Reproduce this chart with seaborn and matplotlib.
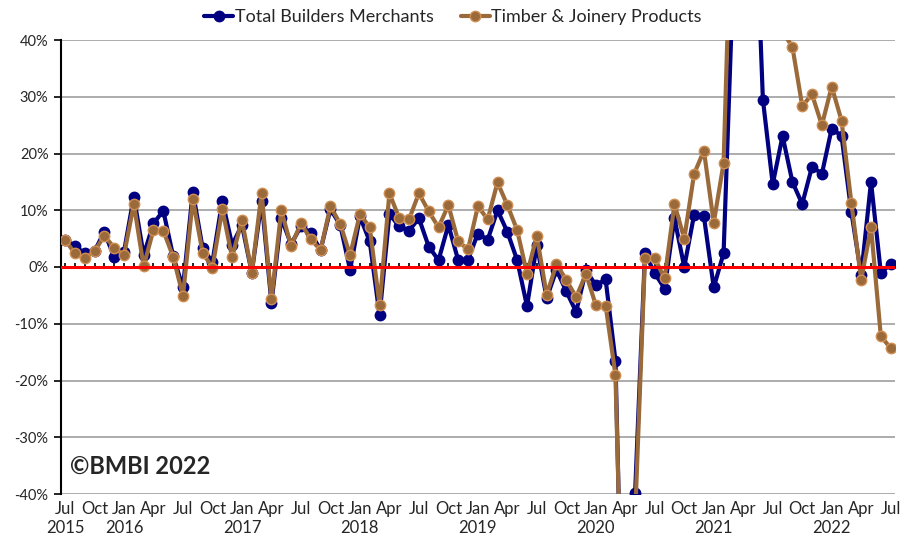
import numpy as np
import pandas as pd
import matplotlib
matplotlib.use("Agg")
import matplotlib.pyplot as plt
import seaborn as sns

# Monthly year-on-year change (%), Jul 2015 .. Jul 2022
total_builders = [
    4.7, 3.7, 2.4, 2.8, 6.2, 1.7, 2.7, 12.4, 2.1, 7.7, 9.9, 1.9,
    -3.6, 13.3, 3.3, 0.9, 11.7, 3.9, 7.4, -1.0, 11.7, -6.3, 8.6, 4.0,
    7.2, 6.0, 3.0, 10.2, 7.4, -0.5, 8.9, 4.5, -8.5, 9.3, 7.2, 6.4,
    8.6, 3.6, 1.2, 7.4, 1.2, 1.3, 5.9, 4.8, 10.0, 6.2, 1.2, -6.9,
    3.9, -5.5, -0.5, -4.3, -7.9, -0.6, -3.2, -2.2, -16.5, -90.0, -39.8, 2.4,
    -1.1, -3.8, 8.6, 0.0, 9.2, 8.9, -3.6, 2.4, 52.0, 160.0, 75.0, 29.5,
    14.6, 23.1, 15.0, 11.1, 17.7, 16.4, 24.4, 23.1, 9.7, -1.4, 15.0, -1.0,
    0.5,
]
timber_joinery = [
    4.8, 2.4, 1.5, 2.8, 5.5, 3.4, 2.1, 11.1, 0.1, 6.6, 6.4, 1.8,
    -5.1, 11.9, 2.5, -0.1, 10.2, 1.7, 8.3, -1.0, 13.1, -5.7, 10.0, 3.7,
    7.7, 4.9, 3.0, 10.7, 7.6, 2.1, 9.3, 7.0, -6.7, 13.0, 8.6, 8.4,
    13.0, 9.8, 7.0, 10.9, 4.5, 3.1, 10.7, 8.4, 14.9, 10.9, 6.5, -1.2,
    5.5, -4.9, 0.5, -2.3, -5.3, -1.2, -6.7, -6.8, -19.0, -85.0, -44.0, 1.5,
    1.5, -2.0, 11.1, 5.0, 16.4, 20.5, 7.8, 18.3, 76.0, 180.0, 110.0, 70.0,
    55.0, 41.5, 38.8, 28.4, 30.4, 25.0, 31.8, 25.8, 11.3, -2.3, 7.0, -12.2,
    -14.3,
]
months = pd.date_range("2015-07-01", periods=len(total_builders), freq="MS")
series_names = ["Total Builders Merchants", "Timber & Joinery Products"]
series_colors = ["#000080", "#9B6A3A"]
edge_colors = ["#000080", "#D08E52"]
y_ticks = [-40, -30, -20, -10, 0, 10, 20, 30, 40]

# month labels every quarter, year labels under the first month and each Jan
tick_pos = list(range(0, len(months), 3))
month_labels = [months[p].strftime("%b") for p in tick_pos]
year_pos = [p for p in tick_pos if p == 0 or months[p].month == 1]
year_labels = [str(months[p].year) for p in year_pos]

sns.set_style("white")
plt.rcParams["font.family"] = ["Lato", "DejaVu Sans"]

fig = plt.figure(figsize=(9.02, 5.41), dpi=100)
W, H = 902, 541
ax = fig.add_axes([61 / W, 1 - 494 / H, (895 - 61) / W, (494 - 40) / H])

x = np.arange(len(months))
lines = []
for vals, name, col, ec in zip([total_builders, timber_joinery], series_names,
                               series_colors, edge_colors):
    sns.lineplot(x=x, y=vals, ax=ax, color=col, linewidth=3.0, marker="o",
                 markersize=7.5, markerfacecolor=col, markeredgecolor=ec,
                 markeredgewidth=1.0, label=name, legend=False, zorder=3)
    lines.append(ax.lines[-1])

ax.axhline(0, color="#FF0000", linewidth=2.2, zorder=6)

ax.set_ylim(-40, 40)
ax.set_xlim(-0.41, len(months) - 1 + 0.44)
ax.set_yticks(y_ticks)
ax.set_yticklabels([f"{v}%" for v in y_ticks], fontsize=10.5)
ax.set_xticks(tick_pos)
ax.set_xticklabels(month_labels, fontsize=12)
ax.tick_params(axis="x", length=0, pad=5)
ax.tick_params(axis="y", direction="out", length=5, width=1.2, color="black", pad=4, left=True)
ax.grid(axis="y", color="#A6A6A6", linewidth=1.3)
ax.grid(axis="x", visible=False)
for s in ["top", "right", "bottom"]:
    ax.spines[s].set_visible(False)
ax.spines["left"].set_color("black")
ax.spines["left"].set_linewidth(1.5)
ax.set_axisbelow(True)

# year row below the month labels
yr = ax.secondary_xaxis("bottom")
yr.set_xticks(year_pos)
yr.set_xticklabels(year_labels, fontsize=12)
yr.tick_params(axis="x", length=0, pad=19)
yr.spines["bottom"].set_visible(False)

# small monthly tick marks along the zero line
sec = ax.secondary_xaxis(0.5)
sec.set_xticks(x)
sec.set_xticklabels([])
sec.tick_params(axis="x", direction="out", length=3, width=1.2, color="black")
sec.spines["bottom"].set_visible(False)

fig.legend(handles=lines, labels=series_names, loc="center",
           bbox_to_anchor=(453 / W, 1 - 17 / H), ncol=2, frameon=False,
           fontsize=13, handlelength=1.6, handletextpad=0.1, columnspacing=1.5)

fig.text(70 / W, 1 - 466 / H, "©BMBI 2022", fontsize=17, fontweight="bold",
         ha="left", va="center")

fig.savefig("out.png", dpi=100)
